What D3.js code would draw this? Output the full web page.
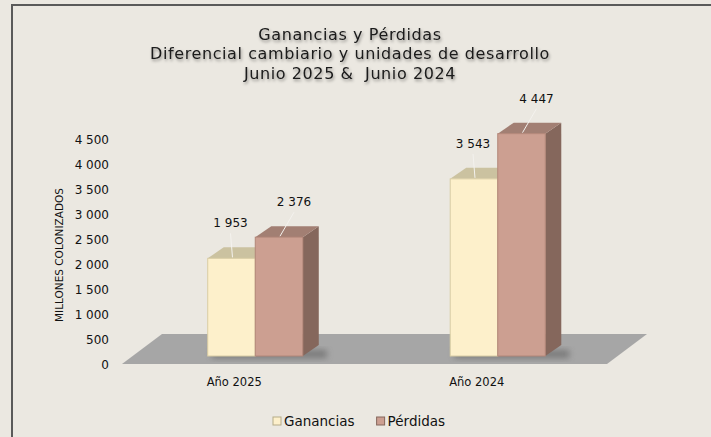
<!DOCTYPE html>
<html>
<head>
<meta charset="utf-8">
<script src="https://cdn.jsdelivr.net/npm/d3@7"></script>
<style>
  html, body { margin: 0; padding: 0; background: #ebe8e1; }
  svg { display: block; font-family: "DejaVu Sans", Verdana, sans-serif; }
</style>
</head>
<body>
<svg id="chart" width="711" height="437"></svg>
<script>
// Ganancias y Pérdidas chart
var categories = ["Año 2025", "Año 2024"];
var seriesNames = ["Ganancias", "Pérdidas"];
var ganancias = [1953, 3543];
var perdidas = [2376, 4447];
var yTicks = [0, 500, 1000, 1500, 2000, 2500, 3000, 3500, 4000, 4500];
var titleLines = ["Ganancias y Pérdidas", "Diferencial cambiario y unidades de desarrollo", "Junio 2025 &  Junio 2024"];

var svg = d3.select("#chart");

var colors = {
  "Ganancias": {front: "#fdf0cb", top: "#cbc2a0", side: "#b6ab88", stroke: "#d9cda4"},
  "Pérdidas": {front: "#cc9f91", top: "#a27f73", side: "#85675c", stroke: "#b38678"}
};

// 3D projection settings
var floorDepth = {dx: 40, dy: -30},
    barPos = 0.3,
    barDepth = {dx: 16, dy: -11};

var x = d3.scaleBand().domain(categories).range([122, 607]);
var y = d3.scaleLinear().domain([0, 4500]).range([365, 140]);
var groupW = x.bandwidth() * 0.392;
var xs = d3.scaleBand().domain(seriesNames).range([0, groupW]);

var fmt = function(v) { return d3.format(",")(v).replace(/,/g, " "); };

var defs = svg.append("defs");
var sh = defs.append("filter").attr("id", "tshadow").attr("x", "-10%").attr("y", "-30%").attr("width", "120%").attr("height", "160%");
sh.append("feDropShadow").attr("dx", 1).attr("dy", 2).attr("stdDeviation", 1.6).attr("flood-color", "#000").attr("flood-opacity", 0.4);
var blur = defs.append("filter").attr("id", "blur").attr("x", "-50%").attr("y", "-50%").attr("width", "200%").attr("height", "200%");
blur.append("feGaussianBlur").attr("stdDeviation", 3);

// frame
svg.append("path")
  .attr("d", "M12,440 V5 H715")
  .attr("fill", "none")
  .attr("stroke", "#5a5a5a")
  .attr("stroke-width", 2);

// title
svg.append("g").attr("filter", "url(#tshadow)")
  .selectAll("text").data(titleLines).enter().append("text")
    .attr("x", 350)
    .attr("y", function(d, i) { return 39.5 + i * 19.5; })
    .attr("text-anchor", "middle")
    .attr("font-size", "16px")
    .attr("letter-spacing", "0.6px")
    .attr("fill", "#1a1a1a")
    .style("white-space", "pre")
    .text(function(d) { return d; });

// floor
var y0 = y(0) - 1,
    fx0 = x.range()[0], fx1 = x.range()[1];
svg.append("path")
  .attr("d", "M" + fx0 + "," + y0 + " L" + (fx0 + floorDepth.dx) + "," + (y0 + floorDepth.dy) +
        " L" + (fx1 + floorDepth.dx) + "," + (y0 + floorDepth.dy) + " L" + fx1 + "," + y0 + "Z")
  .attr("fill", "#a6a6a6");

// y axis
var yAxis = svg.append("g")
  .attr("transform", "translate(109,0)")
  .call(d3.axisLeft(y).tickValues(yTicks).tickSize(0).tickPadding(0).tickFormat(fmt));
yAxis.select(".domain").remove();
yAxis.selectAll("text").attr("font-size", "12px").attr("fill", "#111").attr("font-family", "DejaVu Sans, sans-serif");

svg.append("text")
  .attr("transform", "translate(63,255) rotate(-90)")
  .attr("text-anchor", "middle")
  .attr("font-size", "10.5px")
  .attr("fill", "#111")
  .text("MILLONES COLONIZADOS");

// bars
var data = [];
categories.forEach(function(c, i) {
  data.push({cat: c, s: "Ganancias", v: ganancias[i]});
  data.push({cat: c, s: "Pérdidas", v: perdidas[i]});
});

var offX = floorDepth.dx * barPos, offY = floorDepth.dy * barPos;

data.forEach(function(d) {
  d.x0 = x(d.cat) + x.bandwidth() / 2 - groupW / 2 + offX + xs(d.s);
  d.x1 = d.x0 + xs.bandwidth();
  d.yb = y(0) + offY;
  d.yt = y(d.v) + offY;
});

// shadows on floor
svg.selectAll(".shadow").data(data.filter(function(d) { return d.s === "Pérdidas"; })).enter()
  .append("rect")
    .attr("x", function(d) { return d.x0 - xs.bandwidth() + 4; })
    .attr("y", function(d) { return d.yb - 6; })
    .attr("width", function(d) { return xs.bandwidth() * 2 + barDepth.dx + 4; })
    .attr("height", 8)
    .attr("fill", "#555")
    .attr("opacity", 0.55)
    .attr("filter", "url(#blur)");

var bars = svg.selectAll(".bar").data(data).enter().append("g").attr("class", "bar");

bars.append("path")
  .attr("d", function(d) {
    return "M" + d.x1 + "," + d.yt + " L" + (d.x1 + barDepth.dx) + "," + (d.yt + barDepth.dy) +
      " L" + (d.x1 + barDepth.dx) + "," + (d.yb + barDepth.dy) + " L" + d.x1 + "," + d.yb + "Z";
  })
  .attr("fill", function(d) { return colors[d.s].side; });

bars.append("path")
  .attr("d", function(d) {
    return "M" + d.x0 + "," + d.yt + " L" + (d.x0 + barDepth.dx) + "," + (d.yt + barDepth.dy) +
      " L" + (d.x1 + barDepth.dx) + "," + (d.yt + barDepth.dy) + " L" + d.x1 + "," + d.yt + "Z";
  })
  .attr("fill", function(d) { return colors[d.s].top; });

bars.append("rect")
  .attr("x", function(d) { return d.x0; })
  .attr("y", function(d) { return d.yt; })
  .attr("width", function(d) { return d.x1 - d.x0; })
  .attr("height", function(d) { return d.yb - d.yt; })
  .attr("fill", function(d) { return colors[d.s].front; })
  .attr("stroke", function(d) { return colors[d.s].stroke; })
  .attr("stroke-width", 1);

// data labels with leader lines
var lblDx = {"Ganancias": -1, "Pérdidas": 15};
data.forEach(function(d) {
  d.lx = (d.x0 + d.x1) / 2 + lblDx[d.s];
  d.ly = d.yt - 31;
});

svg.selectAll(".leader").data(data).enter().append("line")
  .attr("x1", function(d) { return d.lx; })
  .attr("y1", function(d) { return d.ly + 6; })
  .attr("x2", function(d) { return (d.x0 + d.x1) / 2 + 1; })
  .attr("y2", function(d) { return d.yt - 1; })
  .attr("stroke", "#f4f2ee")
  .attr("stroke-width", 1);

svg.selectAll(".lbl").data(data).enter().append("text")
  .attr("x", function(d) { return d.lx; })
  .attr("y", function(d) { return d.ly; })
  .attr("text-anchor", "middle")
  .attr("font-size", "12px")
  .attr("fill", "#111")
  .text(function(d) { return fmt(d.v); });

// category labels
svg.selectAll(".cat").data(categories).enter().append("text")
  .attr("x", function(d) { return x(d) + x.bandwidth() / 2 - 9; })
  .attr("y", 386)
  .attr("text-anchor", "middle")
  .attr("font-size", "11.5px")
  .attr("fill", "#111")
  .text(function(d) { return d; });

// legend
var legend = svg.append("g").attr("transform", "translate(273,420)");
var lx = 0;
seriesNames.forEach(function(s) {
  var g = legend.append("g").attr("transform", "translate(" + lx + ",0)");
  g.append("rect").attr("x", 0).attr("y", -3).attr("width", 8).attr("height", 8)
    .attr("fill", colors[s].front).attr("stroke", colors[s].side).attr("stroke-width", 1);
  var t = g.append("text").attr("x", 11).attr("y", 5.5).attr("font-size", "13.5px").attr("fill", "#111").text(s);
  lx += 11 + t.node().getComputedTextLength() + 22;
});
</script>
</body>
</html>
